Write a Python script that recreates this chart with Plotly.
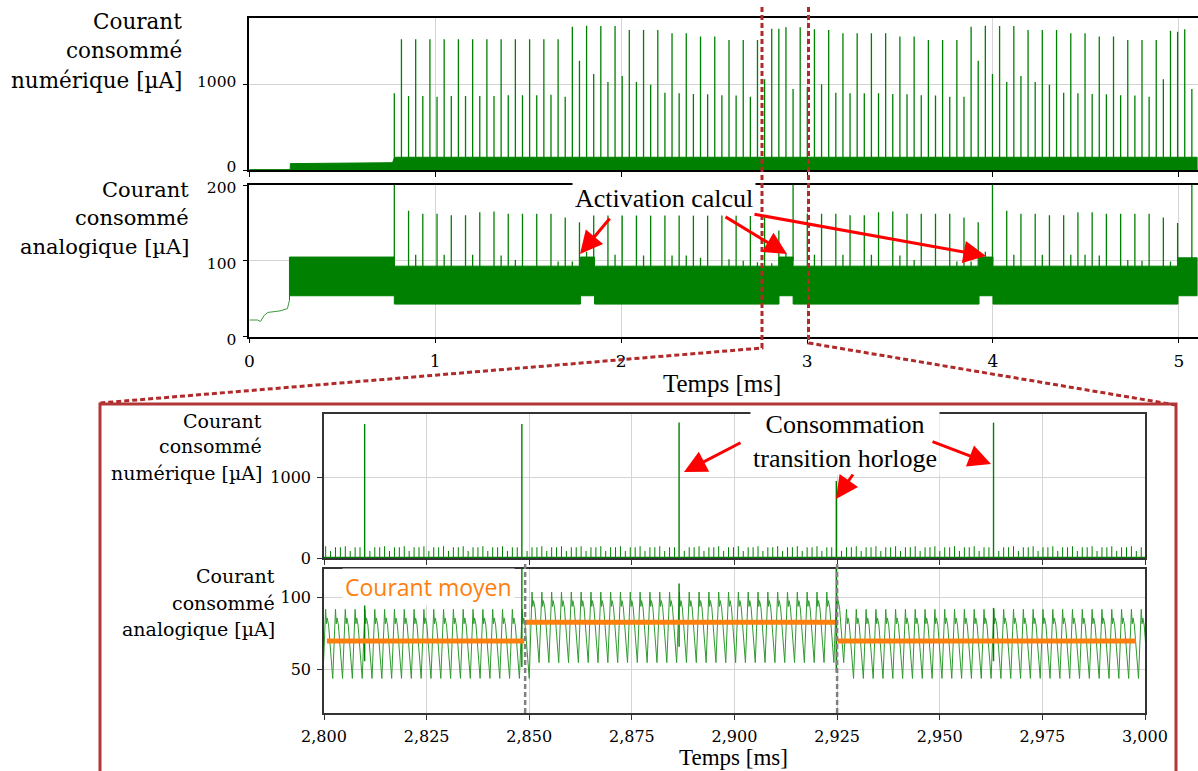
import numpy as np
import plotly.graph_objects as go

W, H = 1198, 771

# ======================= DATA =======================
# ---- main view : 0 .. 5.1 ms ----
X_MAIN = [0.0, 5.1]
main_xticks = [0, 1, 2, 3, 4, 5]
main_xticktext = ["0", "1", "2", "3", "4", "5"]

# clock edges (one spike per clock period)
CLK_T0_MS = 0.780
CLK_DT_MS = 0.0383

# digital current peak at every clock edge [uA]
dig_spike_uA = [
    902, 1537, 871, 1537, 871, 1537, 863, 1537, 871, 1537,
    871, 1537, 871, 1537, 871, 1537, 878, 1537, 878, 1537,
    878, 1537, 886, 1537, 863, 1686, 1286, 1698, 1129, 1694,
    1035, 1694, 1106, 1647, 1035, 1647, 1004, 1647, 910, 1608,
    902, 1608, 894, 1569, 890, 1569, 878, 1529, 875, 1529,
    863, 1529, 1067, 1662, 1662, 1680, 954, 1680, 973, 1655,
    1008, 1647, 910, 1608, 902, 1608, 902, 1608, 902, 1608,
    894, 1569, 890, 1569, 878, 1529, 875, 1529, 863, 1529,
    863, 1686, 1286, 1698, 1129, 1694, 1035, 1694, 1106, 1647,
    1035, 1647, 1004, 1647, 910, 1608, 902, 1608, 894, 1569,
    890, 1569, 878, 1529, 875, 1529, 863, 1529, 1067, 1639,
    1627, 1655, 953,
]

# analog current peak at every clock edge [uA] (None: hidden inside the band)
ana_spike_uA = [
    230, None, 166, 108, 162, None, 162, 108, 160, None,
    160, 108, 164, None, 165, 107, 162, 101, 162, None,
    162, None, 162, 99, 157, 99, 151, 112, 164, None,
    162, 108, 162, None, 161, 107, 160, None, 162, 107,
    162, 107, 160, 104, 160, None, 162, 102, 160, 100,
    159, 98, 157, 97, 140, 110, 230, 93, 162, 108,
    162, None, 162, 108, 160, None, 160, 108, 164, None,
    165, 107, 162, 101, 162, None, 162, None, 162, 99,
    157, 99, 151, 112, 230, None, 166, 108, 162, None,
    162, 108, 160, None, 160, 108, 164, 108, 164, 107,
    162, None, 162, 101, 162, 100, 162, None, 157, 99,
    150, None, 230,
]

# digital envelope before / after start-up
dig_env_t = [0.000, 0.220, 0.221, 0.500, 0.770, 0.782, 5.100]
dig_env_hi = [3, 3, 75, 78, 86, 150, 150]

# analog start-up trace
ana_start_t = [0.000, 0.045, 0.060, 0.080, 0.100, 0.165, 0.205, 0.216]
ana_start_uA = [22, 22, 20, 28, 32, 34, 37, 48]

# analog oscillation envelope, by segment (activation = higher band)
ana_seg_start = [0.216, 0.780, 1.781, 1.857, 2.849, 2.925, 3.925, 4.000, 4.995]
ana_seg_end = [0.780, 1.781, 1.857, 2.849, 2.925, 3.925, 4.000, 4.995, 5.100]
ana_seg_lo = [54, 43, 54, 43, 54, 43, 54, 43, 54]
ana_seg_hi = [105, 93, 105, 93, 105, 93, 105, 93, 104]

# ---- zoomed view : 2.800 .. 3.000 ms ----
X_ZOOM = [2.800, 3.000]
zoom_xticks = [2.800, 2.825, 2.850, 2.875, 2.900, 2.925, 2.950, 2.975, 3.000]
zoom_xticktext = ["2,800", "2,825", "2,850", "2,875", "2,900",
                  "2,925", "2,950", "2,975", "3,000"]

# fine digital activity (two edges per analog cycle)
FINE_T0_MS = 2.8004
FINE_DT_MS = 0.0011969
fine_pattern_uA = [146, 87, 133, 133]

# analog cycle seen in the zoom
ANA_CYC_T0_MS = 2.8004
ANA_CYC_PERIOD_MS = 0.0023938
ana_cycle_phase = [0.00, 0.08, 0.16, 0.30, 0.72]
ana_cycle_uA = [92, 82, 86, 81, 44]          # normal regime
ana_cycle_active_uA = [104, 94, 98, 93, 55]  # during "activation calcul"

# analog excursions at the clock edges of the zoom (k = 53..57)
zoom_clk_k = [53, 54, 55, 56, 57]
zoom_ana_clk_hi = [97, 140, 110, 140, 93]
zoom_ana_clk_lo = [56, 52, 66, 48, 56]

# mean current (orange)
mean_seg_start = [2.8007, 2.8492, 2.9252]
mean_seg_end = [2.8488, 2.9245, 2.9978]
mean_seg_uA = [70, 83, 70]

# boundaries of the activation in the zoom
zoom_boundaries = [2.849, 2.925]

GREEN = "#008000"
ORANGE = "#ff7f0e"
RED = "#ff0000"
DARKRED = "#b02a2a"

# ======================= helpers =======================
def px(x):
    return x / W


def py(y):
    return 1 - y / H


def band_hi_at(t):
    for s, e, h in zip(ana_seg_start, ana_seg_end, ana_seg_hi):
        if s <= t < e:
            return h
    return ana_seg_hi[-1]


clk_t = [CLK_T0_MS + k * CLK_DT_MS for k in range(len(dig_spike_uA))]

fig = go.Figure()

# ---------------- main digital ----------------
fig.add_trace(go.Scatter(
    x=dig_env_t + dig_env_t[::-1], y=dig_env_hi + [0] * len(dig_env_t),
    fill="toself", fillcolor=GREEN, line=dict(color=GREEN, width=1),
    mode="lines", xaxis="x", yaxis="y", hoverinfo="skip"))
sx, sy = [], []
for t, h in zip(clk_t, dig_spike_uA):
    sx += [t, t, None]
    sy += [0, h, None]
fig.add_trace(go.Scatter(x=sx, y=sy, mode="lines",
                         line=dict(color=GREEN, width=1.3),
                         xaxis="x", yaxis="y", hoverinfo="skip"))

# ---------------- main analog ----------------
fig.add_trace(go.Scatter(x=ana_start_t, y=ana_start_uA, mode="lines",
                         line=dict(color="#3a9a3a", width=1),
                         xaxis="x2", yaxis="y2", hoverinfo="skip"))
bx, by_top, by_bot = [], [], []
for s, e, lo, hi in zip(ana_seg_start, ana_seg_end, ana_seg_lo, ana_seg_hi):
    bx += [s, e]
    by_top += [hi, hi]
    by_bot += [lo, lo]
fig.add_trace(go.Scatter(
    x=[ana_start_t[-1]] + bx + bx[::-1], y=[ana_start_uA[-1]] + by_top + by_bot[::-1],
    fill="toself", fillcolor=GREEN, line=dict(color=GREEN, width=1),
    mode="lines", xaxis="x2", yaxis="y2", hoverinfo="skip"))
ax_, ay_ = [], []
for t, h in zip(clk_t, ana_spike_uA):
    if h is None:
        continue
    ax_ += [t, t, None]
    ay_ += [band_hi_at(t) - 5, h, None]
fig.add_trace(go.Scatter(x=ax_, y=ay_, mode="lines",
                         line=dict(color=GREEN, width=1.3),
                         xaxis="x2", yaxis="y2", hoverinfo="skip"))

# ---------------- zoom digital ----------------
clk_zoom_t = [CLK_T0_MS + k * CLK_DT_MS for k in zoom_clk_k]
fx, fy = [], []
j = 0
while True:
    t = FINE_T0_MS + j * FINE_DT_MS
    if t > X_ZOOM[1]:
        break
    if min(abs(t - c) for c in clk_zoom_t) > FINE_DT_MS / 3:
        fx += [t, t, None]
        fy += [0, fine_pattern_uA[j % len(fine_pattern_uA)], None]
    j += 1
fig.add_trace(go.Scatter(x=fx, y=fy, mode="lines",
                         line=dict(color=GREEN, width=1),
                         xaxis="x3", yaxis="y3", hoverinfo="skip"))
fig.add_trace(go.Scatter(x=X_ZOOM, y=[0, 0], mode="lines",
                         line=dict(color=GREEN, width=2.5),
                         xaxis="x3", yaxis="y3", hoverinfo="skip"))
cx, cy = [], []
for k, t in zip(zoom_clk_k, clk_zoom_t):
    cx += [t, t, None]
    cy += [0, dig_spike_uA[k], None]
fig.add_trace(go.Scatter(x=cx, y=cy, mode="lines",
                         line=dict(color=GREEN, width=1.4),
                         xaxis="x3", yaxis="y3", hoverinfo="skip"))

# ---------------- zoom analog ----------------
wx, wy = [], []
n = -1
while True:
    tp = ANA_CYC_T0_MS + n * ANA_CYC_PERIOD_MS
    if tp > X_ZOOM[1] + ANA_CYC_PERIOD_MS:
        break
    active = zoom_boundaries[0] <= tp < zoom_boundaries[1]
    vals = ana_cycle_active_uA if active else ana_cycle_uA
    for ph, v in zip(ana_cycle_phase, vals):
        wx.append(tp + ph * ANA_CYC_PERIOD_MS)
        wy.append(v)
    n += 1
fig.add_trace(go.Scatter(x=wx, y=wy, mode="lines",
                         line=dict(color="#2e9a2e", width=1),
                         xaxis="x4", yaxis="y4", hoverinfo="skip"))
kx, ky = [], []
for t, hi, lo in zip(clk_zoom_t, zoom_ana_clk_hi, zoom_ana_clk_lo):
    kx += [t, t, None]
    ky += [lo, hi, None]
fig.add_trace(go.Scatter(x=kx, y=ky, mode="lines",
                         line=dict(color=GREEN, width=1.4),
                         xaxis="x4", yaxis="y4", hoverinfo="skip"))
mx, my = [], []
for s, e, v in zip(mean_seg_start, mean_seg_end, mean_seg_uA):
    mx += [s, e, None]
    my += [v, v, None]
fig.add_trace(go.Scatter(x=mx, y=my, mode="lines",
                         line=dict(color=ORANGE, width=5),
                         xaxis="x4", yaxis="y4", hoverinfo="skip"))

# ======================= layout =======================
TICKFONT = dict(family="DejaVu Serif", size=16, color="black")
BIGTICK = dict(family="DejaVu Serif", size=17, color="black")
YTICK = dict(family="DejaVu Serif", size=15.5, color="black")
GRID = "#d4d4d4"


def axis(domain, rng, tickvals, ticktext=None, labels=True, anchor=None,
         lw=1.5, lc="black", font=TICKFONT, shift=0):
    d = dict(domain=domain, range=rng, tickvals=tickvals,
             ticktext=ticktext if ticktext is not None else [str(v) for v in tickvals],
             showticklabels=labels, showgrid=True, gridcolor=GRID, gridwidth=1,
             zeroline=False, showline=True, mirror=True, linecolor=lc,
             linewidth=lw, ticks="outside", ticklen=5, tickwidth=1.2,
             tickcolor=lc, tickfont=font, fixedrange=True, ticklabelstandoff=3,
             ticklabelshift=shift, automargin=False)
    if anchor:
        d["anchor"] = anchor
    return d


MAIN_XD = [px(249.3), px(1197.5)]
ZOOM_XD = [px(324), px(1145)]
layout = dict(
    width=W, height=H, margin=dict(l=0, r=0, t=0, b=0, pad=0), autosize=False,
    paper_bgcolor="white", plot_bgcolor="white", showlegend=False,
    xaxis=axis(MAIN_XD, X_MAIN, main_xticks, main_xticktext, labels=False, anchor="y"),
    yaxis=axis([py(170), py(18)], [0, 1788], [0, 1000], ["0", "1000"], anchor="x",
               font=YTICK, shift=-3),
    xaxis2=axis(MAIN_XD, X_MAIN, main_xticks, main_xticktext, anchor="y2",
                font=BIGTICK),
    yaxis2=axis([py(336.7), py(185)], [0, 200], [0, 100, 200], anchor="x2",
                font=YTICK, shift=3),
    xaxis3=axis(ZOOM_XD, X_ZOOM, zoom_xticks, zoom_xticktext, labels=False,
                anchor="y3", lc="#333333"),
    yaxis3=axis([py(558), py(414)], [0, 1787], [0, 1000], ["0", "1000"],
                anchor="x3", lc="#333333"),
    xaxis4=axis(ZOOM_XD, X_ZOOM, zoom_xticks, zoom_xticktext, anchor="y4",
                lc="#333333"),
    yaxis4=axis([py(713), py(569)], [20, 120], [50, 100], anchor="x4",
                lc="#333333"),
)

ann = []


def label(text, x, y, size, family="DejaVu Serif", xanchor="center",
          color="black", bg=None):
    d = dict(text=text, x=px(x), y=py(y), xref="paper", yref="paper",
             xanchor=xanchor, yanchor="middle", showarrow=False,
             font=dict(family=family, size=size, color=color), align="center")
    if bg:
        d.update(bgcolor=bg, borderpad=2)
    ann.append(d)


# y-axis titles (one annotation per line)
for txt, y in zip(["Courant", "consommé", "numérique [µA]"], [21, 51, 81]):
    label(txt, 184, y, 21.5, xanchor="right")
for txt, y in zip(["Courant", "consommé", "analogique [µA]"], [190, 218, 247]):
    label(txt, 191, y, 21, xanchor="right")
for txt, y in zip(["Courant", "consommé", "numérique [µA]"], [421, 446, 473]):
    label(txt, 264, y, 19, xanchor="right")
for txt, y in zip(["Courant", "consommé", "analogique [µA]"], [576, 603, 629]):
    label(txt, 277, y, 19, xanchor="right")

label("Temps [ms]", 722, 383, 25, family="Liberation Serif")
label("Temps [ms]", 733, 757, 23, family="Liberation Serif")
label("Activation calcul", 664, 199, 26, family="Liberation Serif", bg="white")
label("Consommation<br>transition horloge", 845, 442, 26,
      family="Liberation Serif", bg="white")
label("Courant moyen", 428, 587, 23, family="Open Sans", color=ORANGE, bg="white")


def arrow(tail, tip):
    ann.append(dict(x=px(tip[0]), y=py(tip[1]), xref="paper", yref="paper",
                    ax=tail[0] - tip[0], ay=tail[1] - tip[1],
                    axref="pixel", ayref="pixel", text="", showarrow=True,
                    arrowhead=2, arrowsize=1.5, arrowwidth=3, arrowcolor=RED,
                    standoff=0, startstandoff=0))


arrow((611, 217), (580, 254))
arrow((724, 216), (787, 254))
arrow((753, 214), (986, 256))
arrow((742, 442), (684, 472))
arrow((854, 473), (836, 499))
arrow((931, 441), (991, 464))

layout["annotations"] = ann

shapes = []


def path(points):
    return "M " + " L ".join(f"{px(x):.5f},{py(y):.5f}" for x, y in points)


shapes.append(dict(type="path", xref="paper", yref="paper",
                   path=path([(762, 7), (762, 348), (100, 403)]),
                   line=dict(color=DARKRED, width=3, dash="5px,3px"), layer="above"))
shapes.append(dict(type="path", xref="paper", yref="paper",
                   path=path([(808.5, 7), (808.5, 343), (1176, 405)]),
                   line=dict(color=DARKRED, width=3, dash="5px,3px"), layer="above"))
shapes.append(dict(type="rect", xref="paper", yref="paper",
                   x0=px(100), x1=px(1176), y0=-0.02, y1=py(404),
                   line=dict(color="#b23636", width=3), layer="above"))
for b in zoom_boundaries:
    shapes.append(dict(type="line", xref="x4", yref="paper", x0=b, x1=b,
                       y0=py(713), y1=py(563),
                       line=dict(color="#808080", width=2.5, dash="5px,3px"),
                       layer="above"))
layout["shapes"] = shapes

fig.update_layout(**layout)
fig.write_html("out.html",
               config={"displayModeBar": False},
               post_script="document.body.style.margin='0';"
                           "document.body.style.overflow='hidden';")
